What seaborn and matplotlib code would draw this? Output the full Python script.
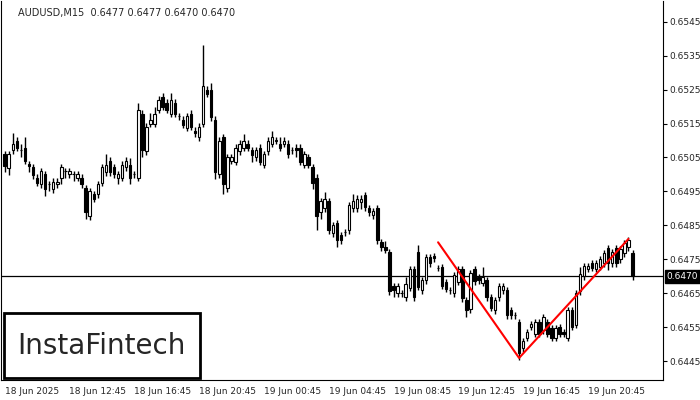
import matplotlib
matplotlib.use("Agg")
import matplotlib.pyplot as plt
from matplotlib.patches import Rectangle
import seaborn as sns
import numpy as np
import pandas as pd

sns.set_style("white")
plt.rcParams['font.family'] = ['DejaVu Sans']

opens = [0.65059,0.65018,0.65071,0.65100,0.65071,0.65079,0.65030,0.65021,0.64991,0.64971,
         0.65000,0.64971,0.64956,0.64971,0.64991,0.65009,0.65000,0.65000,0.64991,0.64991,
         0.64959,0.64877,0.64941,0.64941,0.64976,0.65006,0.65041,0.65021,0.64991,0.64991,
         0.65021,0.65029,0.65000,0.64991,0.65179,0.65068,0.65150,0.65150,0.65191,0.65229,
         0.65212,0.65179,0.65212,0.65171,0.65162,0.65138,0.65179,0.65129,0.65109,0.65150,
         0.65250,0.65250,0.65162,0.65000,0.65109,0.64959,0.65041,0.65038,0.65068,0.65079,
         0.65091,0.65071,0.65050,0.65079,0.65029,0.65068,0.65091,0.65100,0.65091,0.65091,
         0.65091,0.65071,0.65079,0.65079,0.65029,0.65050,0.65021,0.64991,0.64888,0.64900,
         0.64921,0.64827,0.64856,0.64821,0.64830,0.64835,0.64900,0.64900,0.64918,0.64938,
         0.64900,0.64879,0.64900,0.64800,0.64785,0.64771,0.64671,0.64650,0.64650,0.64638,
         0.64665,0.64721,0.64771,0.64659,0.64688,0.64756,0.64759,0.64724,0.64727,0.64683,
         0.64659,0.64650,0.64683,0.64721,0.64630,0.64603,0.64721,0.64697,0.64680,0.64688,
         0.64638,0.64600,0.64638,0.64659,0.64659,0.64600,0.64585,0.64565,0.64488,0.64518,
         0.64550,0.64530,0.64565,0.64541,0.64565,0.64547,0.64518,0.64550,0.64535,0.64518,
         0.64600,0.64556,0.64656,0.64700,0.64721,0.64738,0.64721,0.64727,0.64738,0.64782,
         0.64738,0.64782,0.64750,0.64768,0.64785,0.64768]
closes = [0.65026,0.65059,0.65091,0.65079,0.65071,0.65041,0.65026,0.64997,0.64976,0.65009,
          0.64956,0.64971,0.64979,0.64979,0.65021,0.65009,0.65009,0.65000,0.65000,0.64971,
          0.64888,0.64950,0.64929,0.64971,0.65021,0.65029,0.65006,0.65000,0.65000,0.65029,
          0.65041,0.64991,0.65000,0.65191,0.65071,0.65141,0.65162,0.65179,0.65221,0.65200,
          0.65191,0.65221,0.65179,0.65171,0.65147,0.65171,0.65141,0.65121,0.65141,0.65262,
          0.65238,0.65168,0.65006,0.65100,0.64971,0.65050,0.65050,0.65079,0.65091,0.65100,
          0.65079,0.65056,0.65071,0.65038,0.65059,0.65100,0.65109,0.65100,0.65079,0.65100,
          0.65059,0.65071,0.65071,0.65038,0.65059,0.65029,0.64976,0.64877,0.64921,0.64929,
          0.64835,0.64850,0.64806,0.64806,0.64830,0.64909,0.64921,0.64929,0.64929,0.64903,
          0.64888,0.64891,0.64806,0.64785,0.64777,0.64656,0.64659,0.64671,0.64650,0.64677,
          0.64721,0.64638,0.64668,0.64688,0.64756,0.64738,0.64753,0.64724,0.64671,0.64662,
          0.64659,0.64703,0.64721,0.64635,0.64600,0.64709,0.64685,0.64688,0.64697,0.64638,
          0.64606,0.64630,0.64671,0.64671,0.64585,0.64585,0.64585,0.64474,0.64509,0.64535,
          0.64559,0.64565,0.64530,0.64580,0.64530,0.64518,0.64547,0.64530,0.64530,0.64600,
          0.64550,0.64650,0.64706,0.64730,0.64730,0.64724,0.64738,0.64750,0.64768,0.64738,
          0.64771,0.64738,0.64780,0.64797,0.64806,0.64700]
# wick lengths in pips (0.0001)
up_pips = [1,1,3,1,2,3,1,1,1,1, 1,1,1,1,1,1,1,1,1,1, 1,1,1,1,1,3,1,1,1,1, 1,2,1,2,1,1,2,2,1,1,
           1,2,1,1,1,1,1,1,1,12, 1,2,1,1,1,1,1,1,1,2, 1,1,1,1,1,1,2,1,2,1, 1,1,1,1,1,1,1,1,1,2,
           1,1,1,1,1,1,2,1,1,1, 1,1,1,1,2,1,1,1,1,2, 1,1,2,1,1,1,1,1,1,1, 1,1,1,1,1,1,1,1,3,1,
           1,1,1,1,1,1,1,1,1,1, 1,1,1,1,1,1,1,1,1,1, 1,1,2,1,1,1,1,1,1,1, 1,1,1,1,1,1]
dn_pips = [2,2,1,1,2,1,2,1,1,1, 2,2,1,1,2,2,1,2,1,1, 2,1,1,1,1,1,1,1,2,1, 1,2,1,1,2,1,1,1,1,1,
           1,1,1,1,1,1,1,1,1,1, 1,1,2,1,3,1,1,1,1,1, 1,2,1,1,1,1,1,1,1,1, 1,1,2,1,1,1,2,4,2,1,
           1,1,2,1,1,1,1,1,2,1, 1,1,1,1,1,1,2,1,1,1, 1,1,1,1,1,1,1,1,1,1, 1,1,1,1,2,1,1,1,1,1,
           1,1,1,1,1,1,1,2,1,1, 1,1,1,1,1,1,1,1,1,1, 1,1,1,1,1,1,1,1,1,2, 1,1,1,1,1,1]

pattern_idx = [107, 127, 154]
pattern_px = [0.64800, 0.64459, 0.64810]

yticks = [0.6445,0.6455,0.6465,0.6475,0.6485,0.6495,0.6505,0.6515,0.6525,0.6535,0.6545]
xtick_idx = [0,16,32,48,64,80,96,112,128,144]
xtick_labels = ["18 Jun 2025","18 Jun 12:45","18 Jun 16:45","18 Jun 20:45","19 Jun 00:45",
                "19 Jun 04:45","19 Jun 08:45","19 Jun 12:45","19 Jun 16:45","19 Jun 20:45"]
current = 0.6470
title = "AUDUSD,M15  0.6477 0.6477 0.6470 0.6470"

df = pd.DataFrame({"o": opens, "c": closes})
df["i"] = np.arange(len(df))
df["h"] = df[["o","c"]].max(axis=1) + np.array(up_pips)*0.0001
df["l"] = df[["o","c"]].min(axis=1) - np.array(dn_pips)*0.0001

fig = plt.figure(figsize=(7,4), dpi=100)
ax = fig.add_axes([0.002, 0.05, 0.945, 0.948])
ax.vlines(df["i"], df["l"], df["h"], color="black", lw=1, zorder=1)
bull = df["c"] >= df["o"]
body = (df["c"]-df["o"]).abs().clip(lower=0.000012)
ax.bar(df["i"][bull], body[bull], bottom=df[["o","c"]].min(axis=1)[bull], width=0.6,
       color="white", edgecolor="black", lw=0.8, zorder=2)
ax.bar(df["i"][~bull], body[~bull], bottom=df[["o","c"]].min(axis=1)[~bull], width=0.6,
       color="black", edgecolor="black", lw=0.8, zorder=2)

sns.lineplot(x=pattern_idx, y=pattern_px, ax=ax, color="red", lw=1.5, zorder=3)
ax.axhline(current, color="black", lw=0.9, zorder=0)

ax.set_xlim(-0.8, 162.5)
ax.set_ylim(0.64394, 0.65512)
ax.yaxis.tick_right()
ax.set_yticks(yticks)
ax.set_yticklabels([f"{v:.4f}" for v in yticks], fontsize=6.5)
ax.set_xticks(xtick_idx)
ax.set_xticklabels(xtick_labels, fontsize=6.5, ha="left")
ax.tick_params(axis="both", length=3, color="black", direction="out", pad=2)
ax.spines["top"].set_visible(False)
for s in ["left","right","bottom"]:
    ax.spines[s].set_color("black"); ax.spines[s].set_linewidth(0.8)

ax.text(1.006, current, f"{current:.4f}", transform=ax.get_yaxis_transform(),
        fontsize=6.5, color="white", va="center", ha="left",
        bbox=dict(boxstyle="square,pad=0.2", fc="black", ec="black"))
fig.text(0.026, 0.968, title, fontsize=7, ha="left", va="center")
fig.patches.append(Rectangle((0.005, 0.055), 0.281, 0.1625, transform=fig.transFigure,
                             fc="white", ec="black", lw=2, zorder=5))
fig.text(0.145, 0.136, "InstaFintech", fontsize=20, ha="center", va="center", zorder=6)
fig.savefig("out.png", dpi=100)
